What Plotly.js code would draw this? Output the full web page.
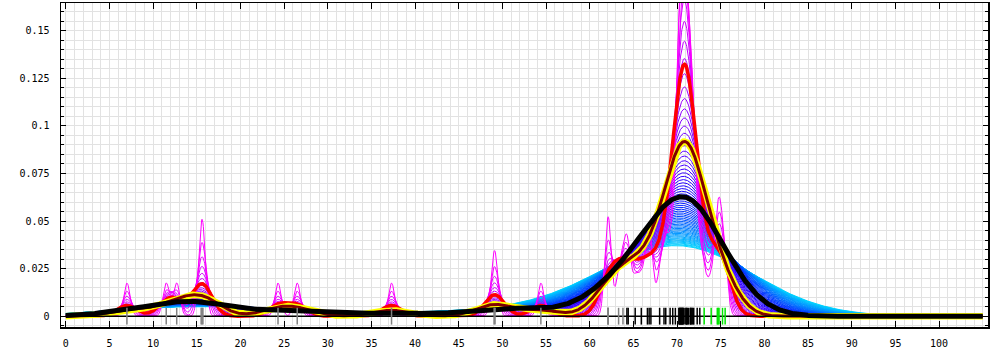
<!DOCTYPE html>
<html>
<head>
<meta charset="utf-8">
<script src="https://cdn.plot.ly/plotly-3.0.1.min.js"></script>
<style>html,body{margin:0;padding:0;background:#fff;}#chart{width:1000px;height:350px;}</style>
</head>
<body>
<div id="chart"></div>
<script>
// Sample positions read from the rug (grey, black and green ticks)
const grayPts = [7.0, 11.5, 12.7, 15.5, 15.6, 15.7, 24.3, 26.5, 37.3, 49.05, 49.15, 54.4, 62.1, 62.1, 62.1, 63.3, 63.8];
const blackPts = [64.25, 64.4, 65.2, 65.9, 66.6, 66.8, 67.0, 68.0, 68.5, 68.7, 69.2, 69.5, 69.8,
  70.2, 70.25, 70.3, 70.35, 70.4, 70.45, 70.5, 70.55, 70.6, 70.65, 70.7, 70.8,
  71.0, 71.05, 71.1, 71.2, 71.3, 71.5, 71.55, 71.6, 71.7, 71.8, 71.9, 72.3, 72.6];
const greenPts = [73.1, 73.9, 74.6, 74.7, 74.8, 75.2, 75.5];

// Bandwidths of the density family and the highlighted curves
const bwMin = 0.37, bwMax = 8.0, nCurves = 64;
const bwRed = 1.14, bwYellow = 2.1, bwBlack = 3.9;

// Evaluation range of the curves
const xStart = 0, xEnd = 105, xStep = 0.05;

const allPts = grayPts.concat(blackPts, greenPts);
const N = allPts.length;
const xs = [];
for (let i = 0; i <= Math.round((xEnd - xStart) / xStep); i++) xs.push(+(xStart + i * xStep).toFixed(3));

function kde(h) {
  const c = 1 / (N * h * Math.sqrt(2 * Math.PI));
  return xs.map(x => {
    let s = 0;
    for (const p of allPts) { const z = (x - p) / h; s += Math.exp(-0.5 * z * z); }
    return s * c;
  });
}

const colStops = [[0, 255, 0, 255], [0.08, 195, 0, 255], [0.2, 115, 0, 255], [0.4, 25, 0, 255],
  [0.55, 0, 40, 255], [0.75, 0, 130, 255], [1, 0, 215, 255]];
function famColor(t) {
  for (let i = 1; i < colStops.length; i++) {
    const a = colStops[i - 1], b = colStops[i];
    if (t <= b[0]) {
      const f = (t - a[0]) / (b[0] - a[0]);
      const c = [1, 2, 3].map(j => Math.round(a[j] + f * (b[j] - a[j])));
      return `rgb(${c[0]},${c[1]},${c[2]})`;
    }
  }
  return 'rgb(0,215,255)';
}

const traces = [];
// family: widest (cyan) first, narrowest (magenta) last
for (let k = nCurves - 1; k >= 0; k--) {
  const t = k / (nCurves - 1);
  const h = bwMin + (bwMax - bwMin) * t;
  traces.push({x: xs, y: kde(h), mode: 'lines', line: {color: famColor(t), width: 1}, hoverinfo: 'skip'});
}
const yRed = kde(bwRed), yYel = kde(bwYellow), yBlk = kde(bwBlack);
traces.push({x: xs, y: yRed, mode: 'lines', line: {color: '#ff0000', width: 3.5}, hoverinfo: 'skip'});
traces.push({x: xs, y: yYel, mode: 'lines', line: {color: '#ffff00', width: 6.5}, hoverinfo: 'skip'});
traces.push({x: xs, y: yYel, mode: 'lines', line: {color: '#800000', width: 3}, hoverinfo: 'skip'});
traces.push({x: xs, y: yBlk, mode: 'lines', line: {color: '#000000', width: 5}, hoverinfo: 'skip'});
// baseline
traces.push({x: [xStart, xEnd], y: [0, 0], mode: 'lines', line: {color: '#000', width: 1.5}, hoverinfo: 'skip'});
// rug
function rug(pts, col) {
  return {x: pts, y: pts.map(() => 0), mode: 'markers', hoverinfo: 'skip',
    marker: {symbol: 'line-ns', size: 12, color: col, line: {color: col, width: 1.5}}};
}
traces.push(rug(grayPts, '#808080'));
traces.push(rug(blackPts, '#000000'));
traces.push(rug(greenPts, '#00e600'));

const xTicks = [];
for (let v = 0; v <= 100; v += 5) xTicks.push(v);
const gridCol = '#e2e2e2';
const fnt = {family: 'DejaVu Sans Mono', size: 10, color: '#000'};

const layout = {
  width: 1000, height: 350,
  margin: {l: 61, r: 12, t: 3, b: 23, pad: 0},
  paper_bgcolor: '#fff', plot_bgcolor: '#fff',
  showlegend: false,
  xaxis: {
    range: [-0.55, 105.6], tickmode: 'array', tickvals: xTicks, ticktext: xTicks.map(String),
    ticks: 'inside', ticklen: 6, tickwidth: 1, tickcolor: '#000',
    showline: true, linecolor: '#000', linewidth: 1.5, mirror: 'ticks',
    showgrid: true, gridcolor: gridCol, gridwidth: 1, zeroline: false,
    minor: {tickmode: 'linear', tick0: 0, dtick: 1, showgrid: true, gridcolor: gridCol, gridwidth: 1, ticks: ''},
    tickfont: fnt, ticklabelstandoff: 6
  },
  yaxis: {
    range: [-0.00567, 0.1646], tickmode: 'linear', tick0: 0, dtick: 0.025,
    ticks: 'inside', ticklen: 5, tickwidth: 1, tickcolor: '#000',
    showline: true, linecolor: '#000', linewidth: 1.5, mirror: 'ticks',
    showgrid: true, gridcolor: gridCol, gridwidth: 1, zeroline: false,
    minor: {tickmode: 'linear', tick0: 0, dtick: 0.005, showgrid: true, gridcolor: gridCol, gridwidth: 1, ticks: 'inside', ticklen: 3, tickcolor: '#000'},
    tickfont: fnt, ticklabelstandoff: 8
  }
};
Plotly.newPlot('chart', traces, layout, {staticPlot: true, displayModeBar: false});
</script>
</body>
</html>
